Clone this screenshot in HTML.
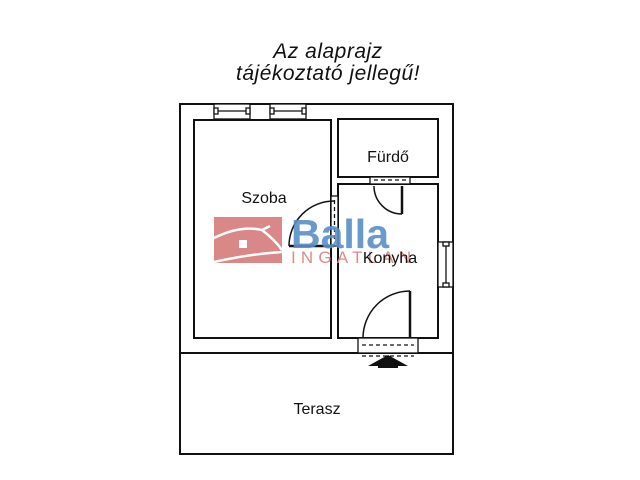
<!DOCTYPE html>
<html><head><meta charset="utf-8"><style>
html,body{margin:0;padding:0;background:#fff;width:640px;height:480px;overflow:hidden}
</style></head><body>
<svg width="640" height="480" viewBox="0 0 640 480" xmlns="http://www.w3.org/2000/svg" font-family="Liberation Sans, DejaVu Sans, sans-serif">
<rect width="640" height="480" fill="#fff"/>
<text x="328" y="58" font-size="21" font-style="italic" text-anchor="middle" fill="#111" letter-spacing="0.5">Az  alaprajz</text>
<text x="328" y="80" font-size="21" font-style="italic" text-anchor="middle" fill="#111" letter-spacing="0.5">tájékoztató  jellegű!</text>
<g fill="none" stroke="#111" stroke-width="2">
<rect x="180" y="104" width="273" height="350"/>
<line x1="180" y1="353" x2="453" y2="353"/>
<rect x="194" y="120" width="137" height="218"/>
<rect x="338" y="119" width="100" height="58"/>
<rect x="338" y="184" width="100" height="154"/>
</g>
<g fill="#fff" stroke="#111" stroke-width="1.3">
<!-- top windows -->
<rect x="214" y="104" width="36" height="15"/>
<rect x="270" y="104" width="36" height="15"/>
<line x1="217" y1="111" x2="247" y2="111"/><line x1="273" y1="111" x2="303" y2="111"/>
<rect x="214" y="108" width="4" height="6"/><rect x="246" y="108" width="4" height="6"/>
<rect x="270" y="108" width="4" height="6"/><rect x="302" y="108" width="4" height="6"/>
<!-- right window -->
<rect x="438" y="242" width="15" height="45"/>
<line x1="446" y1="245" x2="446" y2="284"/>
<rect x="443" y="242" width="6" height="4"/><rect x="443" y="283" width="6" height="4"/>
<!-- furdo door gap -->
<rect x="370" y="177" width="40" height="7"/>
<line x1="374" y1="180" x2="406" y2="180" stroke-dasharray="4,3"/>
<!-- szoba door gap -->
<rect x="331" y="196" width="7" height="50"/>
<line x1="334.5" y1="200" x2="334.5" y2="242" stroke-dasharray="4,3"/>
<!-- entry door -->
<rect x="358" y="338" width="60" height="15"/>
<line x1="362" y1="345" x2="414" y2="345" stroke-dasharray="4,3"/>
<line x1="362" y1="356" x2="414" y2="356" stroke-dasharray="4,3"/>
</g>
<g fill="none" stroke="#111" stroke-width="1.5">
<path d="M402 214 A28 28 0 0 1 374 186"/><line x1="402" y1="186" x2="402" y2="214" stroke-width="2.5"/>
<path d="M289 246 A45 45 0 0 1 334 201"/><line x1="289" y1="246" x2="334" y2="246" stroke-width="2.5"/>
<path d="M363 338 A47 47 0 0 1 410 291"/><line x1="410" y1="291" x2="410" y2="338" stroke-width="2.5"/>
</g>
<polygon points="388,355 408,366 398,366 398,368 378,368 378,366 368,366" fill="#111"/>
<!-- watermark -->
<rect x="214" y="217" width="68" height="46" fill="#d67a7a" opacity="0.9"/>
<path d="M214 238 Q240 225 262 230 L270 226 M262 230 Q275 240 282 250 M214 262 Q250 254 282 252" stroke="#fff" stroke-width="2.5" fill="none"/>
<rect x="239" y="240" width="8" height="8" fill="#fff"/>
<text x="291" y="248" font-size="41" font-weight="bold" fill="#5a8fc6" opacity="0.9">Balla</text>
<text x="291" y="263" font-size="17" fill="#e08a8a" letter-spacing="5.2">INGATLAN</text>
<g font-size="16" fill="#111" text-anchor="middle">
<text x="264" y="203">Szoba</text>
<text x="388" y="162">Fürdő</text>
<text x="390" y="263">Konyha</text>
<text x="317" y="414">Terasz</text>
</g>
</svg>
</body></html>
